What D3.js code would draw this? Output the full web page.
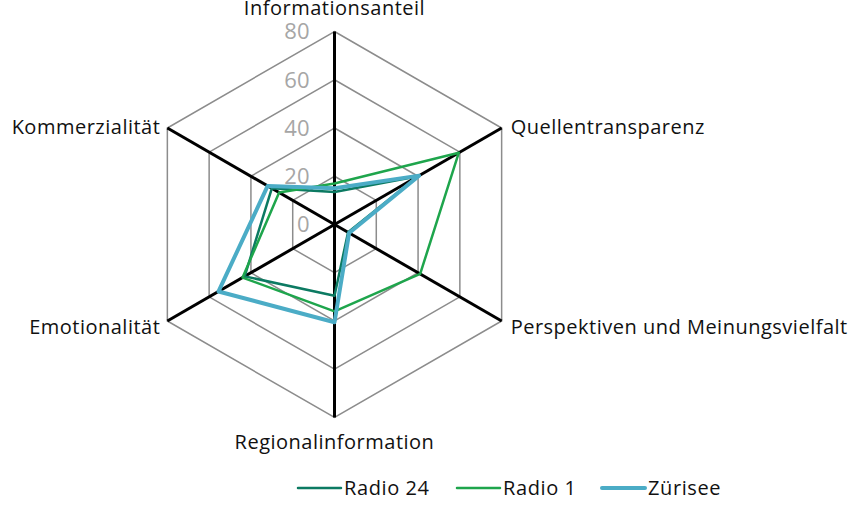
<!DOCTYPE html>
<html>
<head>
<meta charset="utf-8">
<script src="https://cdn.jsdelivr.net/npm/d3@7"></script>
<style>
  body { margin: 0; background: #fff; }
  text { font-family: "Open Sans", sans-serif; }
</style>
</head>
<body>
<div id="chart"></div>
<script>
// axes of the radar, clockwise from the top
var categories = ["Informationsanteil", "Quellentransparenz", "Perspektiven und Meinungsvielfalt",
                  "Regionalinformation", "Emotionalität", "Kommerzialität"];
var radio24 = [13.5, 40, 6.5, 29.5, 43, 30];
var radio1  = [17, 59.5, 41, 36, 44, 26.5];
var zurisee = [15, 40.5, 7, 40.5, 55.5, 32];
var seriesNames = ["Radio 24", "Radio 1", "Zürisee"];
var tickValues = [0, 20, 40, 60, 80];

var width = 859, height = 506;
var cx = 334.5, cy = 224.5, radius = 193;

var series = [
  {name: seriesNames[0], values: radio24, color: "#0c7a62", width: 2.5},
  {name: seriesNames[1], values: radio1,  color: "#1ea54c", width: 2.5},
  {name: seriesNames[2], values: zurisee, color: "#4bacc6", width: 4}
];

var svg = d3.select("#chart").append("svg")
    .attr("width", width)
    .attr("height", height);

var r = d3.scaleLinear().domain([0, 80]).range([0, radius]);
var angle = d3.scalePoint().domain(categories).range([0, 2 * Math.PI * 5 / 6]);

function pt(cat, v) {
  var a = angle(cat);
  return [cx + r(v) * Math.sin(a), cy - r(v) * Math.cos(a)];
}

// grid rings (hexagons)
var g = svg.append("g");
tickValues.slice(1).forEach(function(t) {
  g.append("path")
    .attr("d", d3.line()(categories.map(function(c) { return pt(c, t); })) + "Z")
    .attr("fill", "none")
    .attr("stroke", "#8c8c8c")
    .attr("stroke-width", 1.5);
});

// spokes
categories.forEach(function(c) {
  var p = pt(c, 80);
  g.append("line")
    .attr("x1", cx).attr("y1", cy)
    .attr("x2", p[0]).attr("y2", p[1])
    .attr("stroke", "#000")
    .attr("stroke-width", 3);
});

// tick labels
g.selectAll(".tick")
  .data(tickValues)
  .enter().append("text")
    .attr("x", cx - 25)
    .attr("y", function(d) { return cy - r(d); })
    .attr("dy", "0.36em")
    .attr("text-anchor", "end")
    .attr("fill", "#a6a6a6")
    .style("font-size", "22px")
    .text(function(d) { return d; });

// category labels
var labelPos = {
  "Informationsanteil": {dx: 0, dy: -17, anchor: "middle"},
  "Quellentransparenz": {dx: 9, dy: 6, anchor: "start"},
  "Perspektiven und Meinungsvielfalt": {dx: 9, dy: 13, anchor: "start"},
  "Regionalinformation": {dx: 0, dy: 31, anchor: "middle"},
  "Emotionalität": {dx: -7, dy: 13, anchor: "end"},
  "Kommerzialität": {dx: -7, dy: 6, anchor: "end"}
};
categories.forEach(function(c) {
  var p = pt(c, 80), lp = labelPos[c];
  svg.append("text")
    .attr("x", p[0] + lp.dx)
    .attr("y", p[1] + lp.dy)
    .attr("text-anchor", lp.anchor)
    .attr("fill", "#111")
    .style("font-size", "20px")
    .style("letter-spacing", "0.5px")
    .text(c);
});

// series polygons
var line = d3.line().curve(d3.curveLinearClosed);
series.forEach(function(s) {
  svg.append("path")
    .datum(categories.map(function(c, i) { return pt(c, s.values[i]); }))
    .attr("d", line)
    .attr("fill", "none")
    .attr("stroke", s.color)
    .attr("stroke-width", s.width)
    .attr("stroke-linejoin", "round");
});

// legend
var legendX = [298, 457, 602];
var leg = svg.append("g");
series.forEach(function(s, i) {
  leg.append("line")
    .attr("x1", legendX[i]).attr("x2", legendX[i] + 43)
    .attr("y1", 488).attr("y2", 488)
    .attr("stroke", s.color)
    .attr("stroke-width", s.width)
    .attr("stroke-linecap", "round");
  leg.append("text")
    .attr("x", legendX[i] + 46)
    .attr("y", 488)
    .attr("dy", "0.35em")
    .attr("fill", "#111")
    .style("font-size", "20px")
    .style("letter-spacing", "0.6px")
    .text(s.name);
});
</script>
</body>
</html>
